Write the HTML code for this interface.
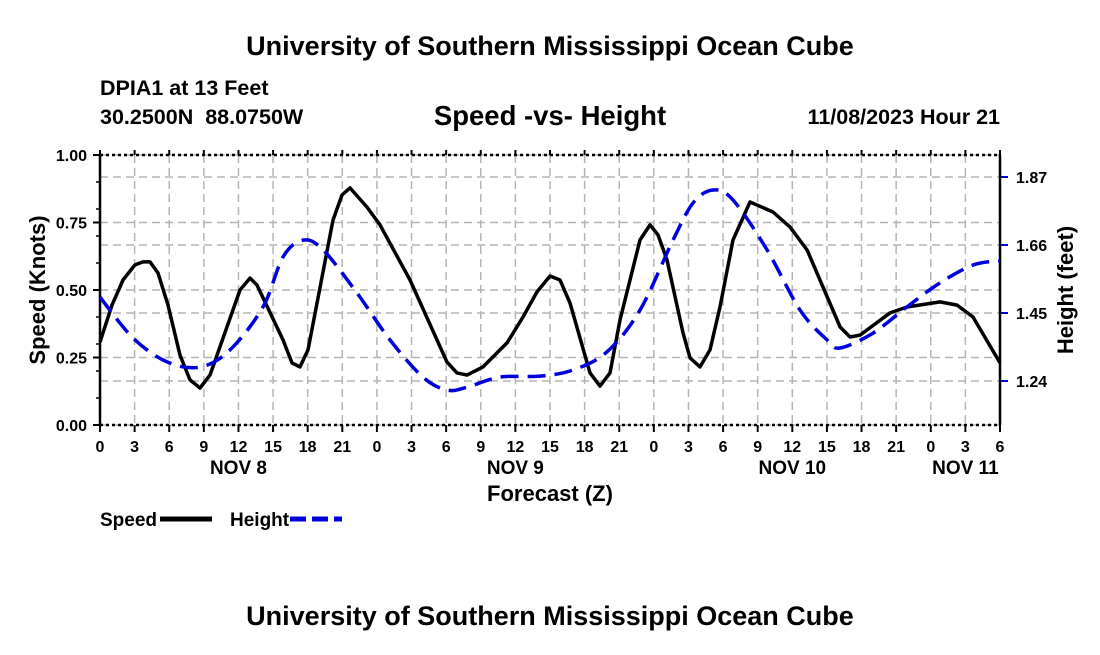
<!DOCTYPE html>
<html><head><meta charset="utf-8"><style>
body{margin:0;background:#fff;}
svg text{font-family:"Liberation Sans",Arial,sans-serif;font-weight:bold;fill:#000;}
</style></head><body>
<svg id="chart" width="1100" height="650" xmlns="http://www.w3.org/2000/svg">
<rect width="1100" height="650" fill="#fff"/>
<text x="550" y="55" font-size="27" text-anchor="middle">University of Southern Mississippi Ocean Cube</text>
<text x="100" y="95" font-size="21.5">DPIA1 at 13 Feet</text>
<text x="100" y="124" font-size="21.5">30.2500N&#160;&#160;88.0750W</text>
<text x="550" y="125" font-size="27.5" text-anchor="middle">Speed -vs- Height</text>
<text x="1000" y="124" font-size="21.5" text-anchor="end">11/08/2023 Hour 21</text>
<g id="grid"></g>
<g id="axes"></g>
<g id="series"></g>
<text transform="translate(45,290) rotate(-90)" font-size="22" text-anchor="middle">Speed (Knots)</text>
<text transform="translate(1073,290) rotate(-90)" font-size="22" text-anchor="middle">Height (feet)</text>
<text x="550" y="501" font-size="22" text-anchor="middle">Forecast (Z)</text>
<g>
<text x="100" y="526" font-size="19">Speed</text>
<line x1="160" y1="519" x2="212" y2="519" stroke="#000" stroke-width="5"/>
<text x="230" y="526" font-size="19">Height</text>
<line x1="290" y1="519" x2="342" y2="519" stroke="#0000dd" stroke-width="5" stroke-dasharray="16,6"/>
</g>
<text x="550" y="625" font-size="27" text-anchor="middle">University of Southern Mississippi Ocean Cube</text>
</svg>
<script>
const speedHours=[0,1.04,1.99,3.03,3.73,4.33,5.03,5.89,6.93,7.8,8.67,9.53,12.13,13,13.6,15.86,16.64,17.33,18.03,20.19,20.97,21.67,23.14,24.27,26.87,30.07,30.94,31.81,33.19,35.27,36.66,37.87,39,39.87,40.73,42.47,43.33,44.2,45.07,46.8,47.67,48.36,49.14,50.53,51.14,52,52.87,53.73,54.86,56.33,58.33,59.8,61.28,62.66,64.14,65,65.87,68.47,69.94,72.8,74.28,75.66,78];
const speedValues=[.307,.444,.537,.593,.604,.604,.563,.444,.259,.167,.137,.185,.5,.544,.519,.315,.23,.215,.278,.759,.852,.878,.807,.741,.537,.233,.193,.185,.215,.304,.4,.493,.552,.537,.452,.193,.144,.193,.389,.685,.741,.704,.611,.341,.248,.215,.278,.437,.685,.826,.789,.733,.648,.511,.363,.326,.333,.415,.437,.456,.444,.4,.23];
const heightHours=[0,2.86,5.81,8.67,11.27,14.13,15.86,17.59,19.33,22.27,25.13,27.99,30.07,31.81,34.67,38.13,40.99,43.94,46.8,49.66,51.4,53.13,54.86,57.81,60.67,63.01,64.14,67,69.94,72.8,75.66,78];
const heightValues=[1.499,1.373,1.299,1.283,1.336,1.469,1.623,1.675,1.645,1.512,1.367,1.252,1.212,1.221,1.252,1.255,1.274,1.33,1.459,1.675,1.79,1.83,1.799,1.645,1.459,1.367,1.342,1.388,1.469,1.543,1.598,1.611];
const speedTicks=[0,0.25,0.5,0.75,1.0];
const heightTicks=[1.24,1.45,1.66,1.87];
const xTickLabels=["0","3","6","9","12","15","18","21","0","3","6","9","12","15","18","21","0","3","6","9","12","15","18","21","0","3","6"];
const dayLabels=["NOV 8","NOV 9","NOV 10","NOV 11"];
const dayHours=[12,36,60,75];

const X0=100,X1=1000,Y0=425,Y1=155;
const xs=h=>X0+h/78*(X1-X0);
const ys=s=>Y0-s*(Y0-Y1);
const yh=v=>381-(v-1.24)/0.21*68;
const NS="http://www.w3.org/2000/svg";
function mk(parent,tag,attrs){const e=document.createElementNS(NS,tag);for(const k in attrs)e.setAttribute(k,attrs[k]);document.getElementById(parent).appendChild(e);return e;}
for(let i=0;i<xTickLabels.length;i++){const x=xs(i*3);
 const g=mk('grid','line',{x1:x,y1:Y1,x2:x,y2:Y0,stroke:'#b4b4b4','stroke-width':1.5,'stroke-dasharray':'8,5'});
 
 
 const t=mk('axes','line',{x1:x,y1:Y0,x2:x,y2:Y0+7,stroke:'#000','stroke-width':2});
 
 
 const t2=mk('axes','line',{x1:x,y1:Y1,x2:x,y2:Y1-5,stroke:'#000','stroke-width':2});
 
 
 const lb=mk('axes','text',{x:x,y:452,'font-size':16,'text-anchor':'middle'});lb.textContent=xTickLabels[i];
 
 
}
speedTicks.forEach(v=>{const y=ys(v);
 const g=mk('grid','line',{x1:X0,y1:y,x2:X1,y2:y,stroke:'#b4b4b4','stroke-width':1.5,'stroke-dasharray':'8,5'});
 
 
 const t=mk('axes','line',{x1:X0-7,y1:y,x2:X0,y2:y,stroke:'#000','stroke-width':2});
 
 
 const lb=mk('axes','text',{x:87,y:y+6,'font-size':16,'text-anchor':'end'});lb.textContent=v.toFixed(2);
 
 
});
for(let v=0.1;v<1;v+=0.1){const y=ys(v);
 const t=mk('axes','line',{x1:X0-4,y1:y,x2:X0,y2:y,stroke:'#000','stroke-width':1.5});
 
 }
heightTicks.forEach(v=>{const y=yh(v);
 const g=mk('grid','line',{x1:X0,y1:y,x2:X1,y2:y,stroke:'#b4b4b4','stroke-width':1.5,'stroke-dasharray':'8,5'});
 
 
 const t=mk('axes','line',{x1:X1,y1:y,x2:X1+8,y2:y,stroke:'#0000dd','stroke-width':2});
 
 
 const lb=mk('axes','text',{x:1016,y:y+6,'font-size':16});lb.textContent=v.toFixed(2);
 
 
});
dayLabels.forEach((d,i)=>{const lb=mk('axes','text',{x:xs(dayHours[i]),y:474,'font-size':19,'text-anchor':'middle'});lb.textContent=d;
 
 });
[[X0,Y1,X1,Y1,'3,3'],[X0,Y0,X1,Y0,'3,3']].forEach(a=>{const l=mk('axes','line',{x1:a[0],y1:a[1],x2:a[2],y2:a[3],stroke:'#000','stroke-width':2.5,'stroke-dasharray':a[4]});
 
 });
[[X0],[X1]].forEach(a=>{const l=mk('axes','line',{x1:a[0],y1:Y1,x2:a[0],y2:Y0,stroke:'#000','stroke-width':2.5});
 
 });
const sp=speedHours.map((h,i)=>xs(h).toFixed(1)+','+ys(speedValues[i]).toFixed(1)).join(' ');
const sl=mk('series','polyline',{points:sp,fill:'none',stroke:'#000','stroke-width':3.5,'stroke-linejoin':'round'});


const P=heightHours.map((h,i)=>[xs(h),yh(heightValues[i])]);
let d='M'+P[0][0]+','+P[0][1];
for(let i=0;i<P.length-1;i++){const p0=P[Math.max(0,i-1)],p1=P[i],p2=P[i+1],p3=P[Math.min(P.length-1,i+2)];
 d+=' C'+(p1[0]+(p2[0]-p0[0])/6)+','+(p1[1]+(p2[1]-p0[1])/6)+' '+(p2[0]-(p3[0]-p1[0])/6)+','+(p2[1]-(p3[1]-p1[1])/6)+' '+p2[0]+','+p2[1];}
const hl=mk('series','path',{d:d,fill:'none',stroke:'#0000dd','stroke-width':3.5,'stroke-dasharray':'18,9'});


</script>
</body></html>
